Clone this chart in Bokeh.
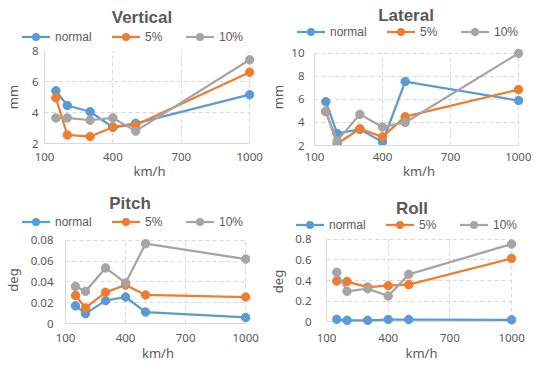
from bokeh.plotting import figure
from bokeh.layouts import row, column
from bokeh.models import (Range1d, FixedTicker, NumeralTickFormatter, BasicTickFormatter,
                          BoxAnnotation, Span, Div)
from bokeh.embed import file_html
from bokeh.resources import INLINE

speed = [150, 200, 300, 400, 500, 1000]
x_ticks = [100, 400, 700, 1000]
series_names = ["normal", "5%", "10%"]
colors = ["#5B9BD5", "#ED7D31", "#A5A5A5"]

vertical_normal = [5.4, 4.45, 4.05, 3.05, 3.3, 5.15]
vertical_5 = [4.95, 2.55, 2.45, 3.05, 3.2, 6.6]
vertical_10 = [3.65, 3.65, 3.5, 3.65, 2.8, 7.4]
vertical_ticks = [2, 4, 6, 8]

lateral_normal = [5.8, 3.05, 3.4, 2.3, 7.55, 5.9]
lateral_5 = [4.95, 2.15, 3.45, 2.75, 4.5, 6.85]
lateral_10 = [4.95, 2.4, 4.7, 3.6, 4.0, 10.0]
lateral_ticks = [2, 4, 6, 8, 10]

pitch_normal = [0.017, 0.0095, 0.022, 0.0255, 0.011, 0.0058]
pitch_5 = [0.027, 0.015, 0.030, 0.037, 0.0275, 0.0255]
pitch_10 = [0.0357, 0.031, 0.0535, 0.039, 0.0768, 0.062]
pitch_ticks = [0, 0.02, 0.04, 0.06, 0.08]

roll_normal = [0.022, 0.012, 0.012, 0.02, 0.02, 0.017]
roll_5 = [0.395, 0.39, 0.335, 0.35, 0.36, 0.615]
roll_10 = [0.48, 0.295, 0.32, 0.25, 0.46, 0.755]
roll_ticks = [0, 0.2, 0.4, 0.6, 0.8]

TEXT = "#595959"
GRID = "#D9D9D9"
FONT = "Noto Sans"
CELL_H = 182
LEG_SLOTS = [0, 90, 164]   # legend item offsets (px)
LEG_GLYPH = 28
LEG_TEXT_OFF = 33


def header(title, W, Hh, title_pos, leg_pos):
    tx, ty = title_pos
    lx, ly = leg_pos
    parts = ['<svg xmlns="http://www.w3.org/2000/svg" width="%d" height="%d" '
             'style="display:block">' % (W, Hh)]
    parts.append('<text x="%s" y="%s" text-anchor="middle" dominant-baseline="central" '
                 'font-family="%s" font-size="17px" font-weight="bold" fill="%s">%s</text>'
                 % (tx, ty, FONT, TEXT, title))
    for name, col, slot in zip(series_names, colors, LEG_SLOTS):
        x0 = lx + slot
        parts.append('<line x1="%s" y1="%s" x2="%s" y2="%s" stroke="%s" stroke-width="2.25"/>'
                     % (x0, ly, x0 + LEG_GLYPH, ly, col))
        parts.append('<circle cx="%s" cy="%s" r="4" fill="%s"/>' % (x0 + LEG_GLYPH / 2, ly, col))
        parts.append('<text x="%s" y="%s" dominant-baseline="central" font-family="%s" '
                     'font-size="12px" fill="%s">%s</text>'
                     % (x0 + LEG_TEXT_OFF, ly, FONT, TEXT, name))
    parts.append('</svg>')
    return Div(text="".join(parts), width=W, height=Hh, margin=0)


def make_panel(title, ylabel, ys, yticks, fmt, W, Hh, title_pos, leg_pos, G, pads,
               ystand, ylab_stand, xstand, xlab_stand):
    gl, gr, gt, gb = G
    pt, pr, pb = pads
    lo, hi = yticks[0], yticks[-1]

    h = header(title, W, Hh, title_pos, leg_pos)

    mh = CELL_H - Hh
    top_m = gt - Hh
    bot_m = gb - Hh
    gw = gr - gl
    gh = bot_m - top_m
    ypx = (hi - lo) / gh
    xpx = 900.0 / gw
    frame_top = top_m - pt
    frame_bottom = bot_m + pb
    frame_right = gr + pr
    p = figure(width=W, height=mh,
               x_range=Range1d(100, 1000 + pr * xpx),
               y_range=Range1d(lo - pb * ypx, hi + pt * ypx),
               output_backend="svg", toolbar_location=None,
               min_border_left=gl, min_border_right=W - frame_right,
               min_border_top=frame_top, min_border_bottom=mh - frame_bottom)
    p.outline_line_color = None
    p.background_fill_color = "white"
    p.border_fill_color = "white"

    for g in (p.xgrid[0], p.ygrid[0]):
        g.grid_line_color = GRID
        g.grid_line_dash = "4 3"
        g.grid_line_width = 1
        g.level = "image"
    p.xgrid.ticker = FixedTicker(ticks=x_ticks)
    p.ygrid.ticker = FixedTicker(ticks=yticks)

    if pb > 0:
        p.add_layout(Span(location=lo, dimension="width", line_color=GRID,
                          line_width=1, level="image"))
    if pr > 0:
        p.add_layout(BoxAnnotation(left=1000 + 0.8 * xpx, fill_color="white", fill_alpha=1,
                                   line_alpha=0, level="underlay"))
    if pt > 0:
        p.add_layout(BoxAnnotation(bottom=hi + 0.8 * ypx, fill_color="white", fill_alpha=1,
                                   line_alpha=0, level="underlay"))
    if pb > 0:
        p.add_layout(BoxAnnotation(top=lo - 0.8 * ypx, fill_color="white", fill_alpha=1,
                                   line_alpha=0, level="underlay"))

    for col, vals in zip(colors, ys):
        p.line(speed, vals, line_color=col, line_width=2.25)
        p.scatter(speed, vals, size=8.5, fill_color=col, line_color=col)

    p.xaxis.ticker = FixedTicker(ticks=x_ticks)
    p.yaxis.ticker = FixedTicker(ticks=yticks)
    p.yaxis.formatter = fmt
    p.xaxis.bounds = (100, 1000)
    p.yaxis.bounds = (lo, hi)
    for ax in (p.xaxis[0], p.yaxis[0]):
        ax.axis_line_color = GRID
        ax.major_tick_line_color = None
        ax.minor_tick_line_color = None
        ax.major_tick_out = 0
        ax.major_tick_in = 0
        ax.major_label_text_font = FONT
        ax.major_label_text_font_size = "11.5px"
        ax.major_label_text_color = TEXT
        ax.axis_label_text_font = FONT
        ax.axis_label_text_font_size = "13px"
        ax.axis_label_text_font_style = "normal"
        ax.axis_label_text_color = TEXT
    if pb > 0:
        p.xaxis.axis_line_color = None
    p.xaxis.axis_label = "km/h"
    p.yaxis.axis_label = ylabel
    p.yaxis.major_label_standoff = ystand
    p.yaxis.axis_label_standoff = ylab_stand
    p.xaxis.major_label_standoff = xstand
    p.xaxis.axis_label_standoff = xlab_stand
    return column(h, p)


c1 = make_panel("Vertical", "mm", [vertical_normal, vertical_5, vertical_10], vertical_ticks,
                BasicTickFormatter(), 266, 45, (142, 17), (22, 37), (36, 249, 50, 146),
                (0, 5, 0), 6, 7, 9, -2)
c2 = make_panel("Lateral", "mm", [lateral_normal, lateral_5, lateral_10], lateral_ticks,
                BasicTickFormatter(), 265, 40, (140, 15), (31, 32), (44, 252, 53, 149),
                (5, 5, 0), 10, 1, 7, -2)
c3 = make_panel("Pitch", "deg", [pitch_normal, pitch_5, pitch_10], pitch_ticks,
                NumeralTickFormatter(format="0.[00]"), 266, 48, (130, 21), (22, 40),
                (57, 245, 58, 144), (4, 5, 0), 12, 6, 10, -1)
c4 = make_panel("Roll", "deg", [roll_normal, roll_5, roll_10], roll_ticks,
                NumeralTickFormatter(format="0.[0]"), 265, 51, (146, 26), (30, 43),
                (56, 245, 57, 141), (2, 5, 4), 15, 5, 8, -1)

layout = column(row(c1, c2), row(c3, c4))
open("out.html", "w").write(file_html(layout, INLINE))
